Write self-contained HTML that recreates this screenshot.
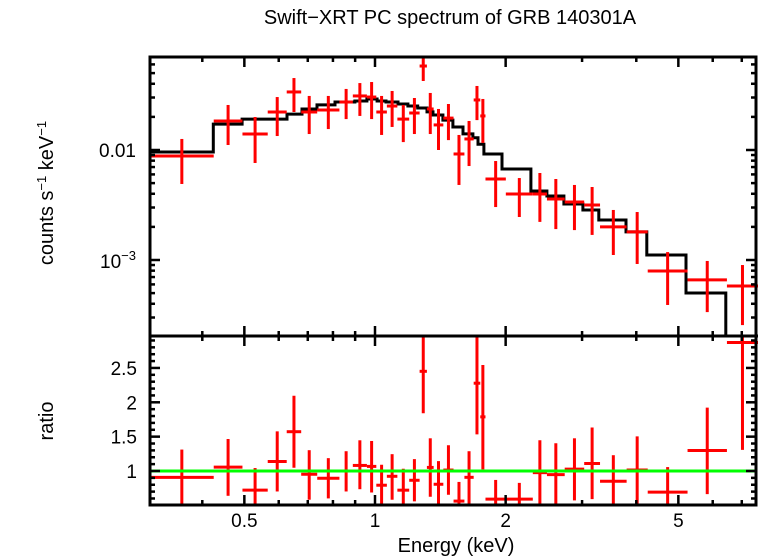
<!DOCTYPE html>
<html><head><meta charset="utf-8"><style>
html,body{margin:0;padding:0;background:#fff;}
svg{display:block;font-family:"Liberation Sans","DejaVu Sans",sans-serif;}
</style></head><body>
<svg id="chart" width="758" height="556" viewBox="0 0 758 556">
<text x="450" y="24" text-anchor="middle" font-size="20">Swift−XRT PC spectrum of GRB 140301A</text>
<text transform="translate(53,193) rotate(-90)" text-anchor="middle" font-size="20">counts s<tspan dy="-7" font-size="13">−1</tspan><tspan dy="7"> keV</tspan><tspan dy="-7" font-size="13">−1</tspan></text>
<text transform="translate(53,421) rotate(-90)" text-anchor="middle" font-size="20">ratio</text>
<text x="456" y="552" text-anchor="middle" font-size="20">Energy (keV)</text>
<g id="g-top"></g>
<g id="g-bot"></g>
<g id="g-frame"></g>
</svg>
<script>
// Data bins (keV)
const binEdges = [0.303,0.425,0.495,0.566,0.626,0.676,0.736,0.828,0.889,0.958,1.007,1.065,1.126,1.199,1.267,1.317,1.365,1.437,1.517,1.607,1.688,1.748,1.797,2.002,2.31,2.49,2.736,3.034,3.30,3.80,4.25,5.25,6.47,7.63];
const counts = [0.00882,0.01836,0.01397,0.02215,0.0337,0.02215,0.0231,0.0273,0.031,0.0303,0.02215,0.0251,0.0191,0.0217,0.058,0.0236,0.0169,0.0195,0.0092,0.0126,0.0285,0.0204,0.00545,0.00398,0.00398,0.00359,0.00337,0.00316,0.002,0.0018,0.000794,0.00066,0.00058];
const countsHi = [0.0126,0.02566,0.01995,0.0303,0.0451,0.031,0.031,0.0359,0.0406,0.0415,0.031,0.0344,0.02566,0.0297,0.0731,0.033,0.0236,0.0262,0.0137,0.01836,0.0382,0.0291,0.00794,0.00556,0.00618,0.00545,0.00481,0.00461,0.00285,0.00273,0.00118,0.00098,0.0009];
const countsLo = [0.00491,0.0111,0.00762,0.0134,0.02215,0.01397,0.0155,0.0191,0.0204,0.0191,0.0137,0.0162,0.0118,0.01397,0.0424,0.01397,0.01,0.0123,0.00481,0.00715,0.0187,0.0116,0.00303,0.00246,0.00222,0.00191,0.00187,0.00169,0.00111,0.00092,0.00039,0.000336,0.000256];
const ratio = [0.908,1.057,0.721,1.139,1.572,0.952,0.894,1.0,1.081,1.067,0.793,0.923,0.721,0.865,2.451,1.052,0.807,1.014,0.562,0.908,2.278,1.788,0.591,0.591,0.976,0.947,1.028,1.11,0.851,1.014,0.692,1.298,2.87];
const ratioHi = [1.312,1.466,1.043,1.577,2.096,1.303,1.187,1.288,1.447,1.437,1.091,1.245,1.033,1.173,3.2,1.476,1.144,1.375,0.841,1.288,3.2,2.543,0.87,0.827,1.447,1.404,1.476,1.634,1.23,1.504,1.057,1.923,3.2];
const ratioLo = [0.505,0.639,0.45,0.702,1.048,0.582,0.601,0.702,0.735,0.687,0.45,0.582,0.45,0.558,1.841,0.625,0.45,0.654,0.45,0.509,1.533,1.024,0.45,0.45,0.509,0.495,0.572,0.591,0.45,0.509,0.45,0.663,1.307];
// Model step function
const modelEdges = [0.303,0.424,0.494,0.627,0.679,0.735,0.809,0.899,0.958,1.011,1.060,1.130,1.191,1.254,1.318,1.360,1.434,1.512,1.595,1.681,1.727,1.782,1.962,2.287,2.489,2.725,3.013,3.278,3.788,4.23,5.206,6.43,7.63];
const modelVals = [0.00959,0.0172,0.0191,0.0212,0.0236,0.0257,0.0273,0.0279,0.0291,0.0279,0.0273,0.0262,0.0251,0.0241,0.0222,0.0208,0.0187,0.0162,0.0140,0.0129,0.0113,0.0092,0.00672,0.00424,0.00382,0.00323,0.00285,0.00231,0.0018,0.00111,0.000501,0.00001];
const xTickMajor = [0.5,1,2,5];
const xTickMinor = [0.4,0.6,0.7,0.8,0.9,3,4,6,7];
const ratioTicks = [1,1.5,2,2.5];

const L=150,R=756,T1=57,B1=336,T2=336,B2=505;
const X=e=>375+434*Math.log10(e);
const Y1=v=>150-110*(Math.log10(v)+2);
const Y2=r=>471-(r-1)*68.7;
const NS='http://www.w3.org/2000/svg';
function mk(p,tag,a){const el=document.createElementNS(NS,tag);for(const k in a)el.setAttribute(k,a[k]);p.appendChild(el);return el;}
const gt=document.getElementById('g-top'),gb=document.getElementById('g-bot'),gf=document.getElementById('g-frame');
const cl=(v,a,b)=>Math.max(a,Math.min(b,v));

let d='';
for(let i=0;i<modelVals.length;i++){
  const x0=X(modelEdges[i]),x1=X(modelEdges[i+1]),y=cl(Y1(modelVals[i]),T1,B1);
  d+=(i===0?'M':'L')+x0.toFixed(1)+','+y.toFixed(1)+'L'+x1.toFixed(1)+','+y.toFixed(1);
}
const mp=mk(gt,'path',{d:d,fill:'none',stroke:'#000','stroke-width':3});



for(let i=0;i<counts.length;i++){
  const x0=X(binEdges[i]),x1=X(binEdges[i+1]),xc=X(Math.sqrt(binEdges[i]*binEdges[i+1]));
  const g=mk(gt,'g',{stroke:'#f00','stroke-width':3});
  
  
  const y=Y1(counts[i]);
  mk(g,'line',{x1:x0,x2:x1,y1:y,y2:y});
  mk(g,'line',{x1:xc,x2:xc,y1:cl(Y1(countsHi[i]),T1,B1),y2:cl(Y1(countsLo[i]),T1,B1)});
  const g2=mk(gb,'g',{stroke:'#f00','stroke-width':3});
  
  
  const yr=Y2(ratio[i]);
  if(yr>=T2&&yr<=B2)mk(g2,'line',{x1:x0,x2:x1,y1:yr,y2:yr});
  mk(g2,'line',{x1:xc,x2:xc,y1:cl(Y2(ratioHi[i]),T2,B2),y2:cl(Y2(ratioLo[i]),T2,B2)});
}
const gl=mk(gb,'line',{x1:L,x2:R,y1:Y2(1),y2:Y2(1),stroke:'#0f0','stroke-width':3});



function frame(t,b){const r=mk(gf,'rect',{x:L,y:t,width:R-L,height:b-t,fill:'none',stroke:'#000','stroke-width':3});}
frame(T1,B1);frame(T2,B2);
const tk=mk(gf,'g',{stroke:'#000','stroke-width':2.5});


function xt(e,len){const x=X(e);[[T1,1],[B1,-1],[T2,1],[B2,-1]].forEach(([y,s])=>mk(tk,'line',{x1:x,x2:x,y1:y,y2:y+s*len}));}
xTickMajor.forEach(e=>xt(e,10));xTickMinor.forEach(e=>xt(e,5));
for(let dec=-4;dec<=-1;dec++)for(let m=1;m<=9;m++){const v=m*Math.pow(10,dec),y=Y1(v);if(y<T1+1||y>B1-1)continue;const len=m===1?10:5;mk(tk,'line',{x1:L,x2:L+len,y1:y,y2:y});mk(tk,'line',{x1:R,x2:R-len,y1:y,y2:y});}
for(let k=5;k<=29;k++){const r=k/10,y=Y2(r);if(y<T2+1||y>B2-1)continue;const len=k%5===0?10:5;mk(tk,'line',{x1:L,x2:L+len,y1:y,y2:y});mk(tk,'line',{x1:R,x2:R-len,y1:y,y2:y});}

xTickMajor.forEach(e=>{const t=mk(gf,'text',{x:X(e),y:527,'text-anchor':'middle','font-size':19});t.textContent=String(e);});
ratioTicks.forEach(r=>{const t=mk(gf,'text',{x:137,y:Y2(r)+7,'text-anchor':'end','font-size':19});t.textContent=String(r);});
const t1=mk(gf,'text',{x:136,y:157,'text-anchor':'end','font-size':19});t1.textContent='0.01';


const t2=mk(gf,'text',{x:136,y:268,'text-anchor':'end','font-size':19});


t2.innerHTML='10<tspan dy="-8" font-size="13">−3</tspan>';
</script>
</body></html>
